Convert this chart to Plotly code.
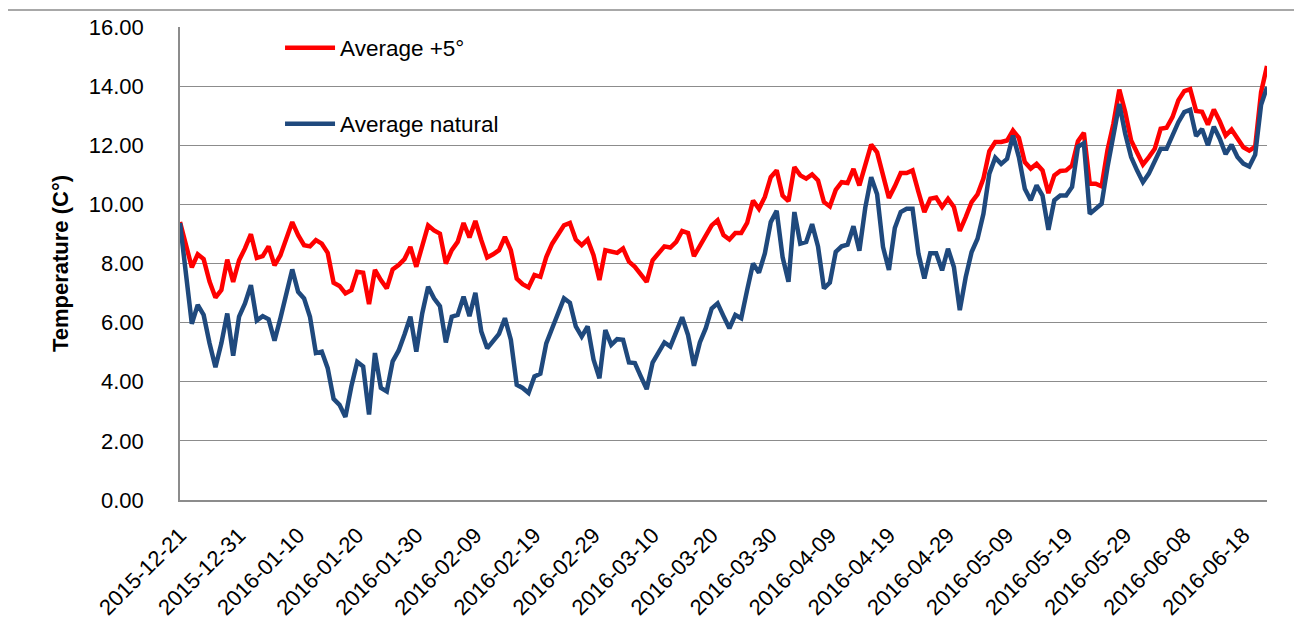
import pandas as pd
import plotly.graph_objects as go

start_date = "2015-12-21"
tick_step_days = 10

average_plus5 = [
    9.40, 8.60, 7.87, 8.31, 8.15, 7.39, 6.85, 7.10, 8.13, 7.38,
    8.11, 8.51, 8.99, 8.19, 8.25, 8.58, 7.94, 8.28, 8.79, 9.40,
    8.96, 8.62, 8.58, 8.79, 8.67, 8.36, 7.35, 7.24, 6.99, 7.10,
    7.72, 7.69, 6.63, 7.78, 7.44, 7.16, 7.80, 7.95, 8.15, 8.56,
    7.89, 8.56, 9.29, 9.12, 9.01, 8.00, 8.45, 8.73, 9.37, 8.88,
    9.44, 8.79, 8.20, 8.31, 8.45, 8.90, 8.45, 7.49, 7.30, 7.19,
    7.61, 7.55, 8.22, 8.67, 8.96, 9.29, 9.37, 8.81, 8.62, 8.81,
    8.28, 7.44, 8.45, 8.39, 8.36, 8.51, 8.06, 7.89, 7.66, 7.38,
    8.11, 8.36, 8.58, 8.54, 8.73, 9.10, 9.03, 8.25, 8.62, 8.96,
    9.29, 9.46, 8.96, 8.81, 9.03, 9.03, 9.37, 10.13, 9.85, 10.25,
    10.92, 11.15, 10.30, 10.11, 11.26, 10.98, 10.87, 11.01, 10.81, 10.08,
    9.93, 10.49, 10.75, 10.72, 11.20, 10.64, 11.31, 12.02, 11.76, 10.92,
    10.22, 10.61, 11.06, 11.06, 11.15, 10.42, 9.74, 10.19, 10.23, 9.91,
    10.19, 9.91, 9.10, 9.57, 10.08, 10.34, 10.87, 11.80, 12.11, 12.11,
    12.16, 12.50, 12.25, 11.43, 11.21, 11.37, 11.15, 10.38, 10.98, 11.13,
    11.15, 11.32, 12.14, 12.42, 10.70, 10.70, 10.61, 11.83, 12.73, 13.88,
    13.12, 12.16, 11.77, 11.35, 11.60, 11.88, 12.56, 12.59, 12.95, 13.52,
    13.83, 13.90, 13.16, 13.13, 12.70, 13.21, 12.81, 12.33, 12.53, 12.23,
    11.93, 11.82, 11.95, 13.80, 14.68,
]

average_natural = [
    9.37, 7.60, 5.96, 6.60, 6.26, 5.30, 4.49, 5.30, 6.31, 4.88,
    6.20, 6.65, 7.27, 6.07, 6.22, 6.11, 5.39, 6.15, 6.99, 7.80,
    7.04, 6.82, 6.20, 4.97, 5.02, 4.46, 3.42, 3.22, 2.81, 3.84,
    4.67, 4.52, 2.89, 4.97, 3.79, 3.67, 4.69, 5.05, 5.60, 6.20,
    5.02, 6.31, 7.21, 6.82, 6.56, 5.33, 6.20, 6.26, 6.88, 6.22,
    7.01, 5.70, 5.13, 5.36, 5.62, 6.15, 5.42, 3.90, 3.79, 3.62,
    4.18, 4.27, 5.30, 5.81, 6.31, 6.82, 6.67, 5.87, 5.53, 5.87,
    4.75, 4.12, 5.75, 5.25, 5.44, 5.42, 4.65, 4.63, 4.18, 3.75,
    4.65, 5.02, 5.33, 5.19, 5.64, 6.18, 5.58, 4.54, 5.33, 5.81,
    6.48, 6.65, 6.22, 5.81, 6.26, 6.15, 7.10, 8.00, 7.69, 8.34,
    9.40, 9.78, 8.22, 7.38, 9.74, 8.67, 8.73, 9.33, 8.58, 7.16,
    7.35, 8.39, 8.58, 8.64, 9.26, 8.43, 9.89, 10.92, 10.34, 8.56,
    7.78, 9.20, 9.74, 9.85, 9.85, 8.33, 7.49, 8.35, 8.35, 7.77,
    8.50, 7.88, 6.42, 7.54, 8.39, 8.84, 9.68, 11.04, 11.58, 11.37,
    11.54, 12.33, 11.60, 10.53, 10.14, 10.64, 10.30, 9.14, 10.14, 10.30,
    10.30, 10.59, 11.95, 12.07, 9.68, 9.85, 10.02, 11.26, 12.39, 13.40,
    12.39, 11.60, 11.15, 10.75, 11.04, 11.43, 11.88, 11.88, 12.33, 12.78,
    13.12, 13.20, 12.31, 12.55, 12.00, 12.63, 12.22, 11.70, 12.02, 11.60,
    11.38, 11.28, 11.68, 13.37, 13.96,
]

y_tick_values = [0, 2, 4, 6, 8, 10, 12, 14, 16]
y_tick_labels = ["0.00", "2.00", "4.00", "6.00", "8.00", "10.00", "12.00", "14.00", "16.00"]

dates = pd.date_range(start_date, periods=len(average_plus5), freq="D")

FONT = "Liberation Sans"
GRID = "#8C8C8C"
OFF = 8  # page body margin offset
W, H = 1302 - OFF, 643 - OFF
PLOT_L, PLOT_R, PLOT_T, PLOT_B = 180 - OFF, 1266.7 - OFF, 27 - OFF, 500 - OFF
ML, MR, MT, MB = PLOT_L, W - PLOT_R, PLOT_T, H - PLOT_B
PW = PLOT_R - PLOT_L
PH = PLOT_B - PLOT_T


def px_x(p):
    return (p - OFF - PLOT_L) / PW


def px_y(p):
    return (PLOT_B - (p - OFF)) / PH


fig = go.Figure()
fig.add_trace(go.Scatter(
    x=dates, y=average_plus5, mode="lines", name="Average +5°",
    line=dict(color="#FF0000", width=4.5), legend="legend",
))
fig.add_trace(go.Scatter(
    x=dates, y=average_natural, mode="lines", name="Average natural",
    line=dict(color="#1F497D", width=4.5), legend="legend2",
))

legend_common = dict(
    xanchor="left", yanchor="middle", bgcolor="rgba(0,0,0,0)",
    font=dict(family=FONT, size=22.5, color="#000000"), itemwidth=50,
    borderwidth=0,
)

fig.update_layout(
    width=W, height=H,
    margin=dict(l=ML, r=MR, t=MT, b=MB, autoexpand=False),
    paper_bgcolor="white", plot_bgcolor="white",
    font=dict(family=FONT, size=22, color="#000000"),
    showlegend=True,
    legend=dict(x=px_x(280), y=px_y(48), **legend_common),
    legend2=dict(x=px_x(280), y=px_y(124), **legend_common),
    xaxis=dict(
        type="date",
        range=[dates[0], dates[-1]],
        tick0=start_date, dtick=tick_step_days * 86400000,
        tickformat="%Y-%m-%d", tickangle=-45,
        showgrid=False, showline=True, linecolor=GRID, linewidth=1.5,
        ticks="", ticklabelstandoff=12,
        tickfont=dict(family=FONT, size=22),
        automargin=False,
    ),
    yaxis=dict(
        range=[0, 16], tickvals=y_tick_values, ticktext=y_tick_labels,
        showgrid=True, gridcolor=GRID, gridwidth=1.3,
        showline=True, linecolor=GRID, linewidth=1.5,
        zeroline=False, ticks="", ticklabelstandoff=30,
        tickfont=dict(family=FONT, size=22),
        title=dict(text="<b>Temperature (C°)</b>", font=dict(family=FONT, size=22), standoff=14),
        automargin=False,
    ),
    shapes=[dict(
        type="rect", xref="paper", yref="paper",
        x0=px_x(5), x1=px_x(1300.5), y0=px_y(660), y1=px_y(10),
        line=dict(color=GRID, width=1.3), fillcolor="rgba(0,0,0,0)", layer="below",
    )],
)

fig.write_html("out.html")
